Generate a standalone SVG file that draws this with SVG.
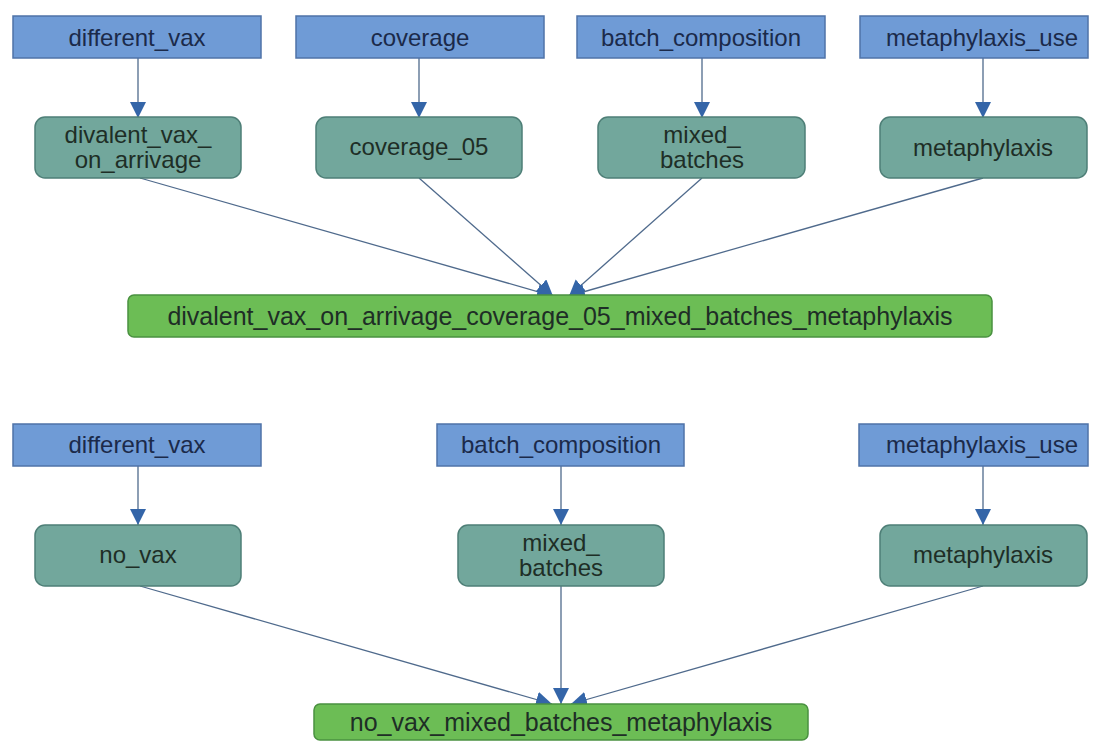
<svg xmlns="http://www.w3.org/2000/svg" width="1099" height="742" viewBox="0 0 1099 742">
<defs>
<style>
.b{fill:#6f9bd6;stroke:#4f73a8;stroke-width:1.5}
.t{fill:#72a79c;stroke:#4e7f77;stroke-width:1.5}
.g{fill:#6cbd55;stroke:#4a9140;stroke-width:1.5}
text{font-family:"Liberation Sans",Arial,sans-serif;font-size:24px;text-anchor:middle}
.big{font-size:25px}
.bt{fill:#1b2a4a}
.tt{fill:#1e2e26}
.e{fill:none;stroke:#4f6a8c;stroke-width:1.3;marker-end:url(#ah)}
</style>
<marker id="ah" markerUnits="userSpaceOnUse" markerWidth="18" markerHeight="18" refX="16" refY="8" orient="auto">
<path d="M0,0 L16,8 L0,16 Z" fill="#3465a8"/>
</marker>
</defs>
<rect width="1099" height="742" fill="#ffffff"/>
<g id="connectors">
<line class="e" x1="138" y1="58" x2="138" y2="118"/>
<line class="e" x1="419" y1="58" x2="419" y2="118"/>
<line class="e" x1="702" y1="58" x2="702" y2="118"/>
<line class="e" x1="983" y1="58" x2="983" y2="118"/>
<line class="e" x1="140" y1="178" x2="553" y2="296"/>
<line class="e" x1="419" y1="178" x2="553" y2="296"/>
<line class="e" x1="702" y1="178" x2="569" y2="296"/>
<line class="e" x1="983" y1="178" x2="569" y2="296"/>
<line class="e" x1="138" y1="466" x2="138" y2="525"/>
<line class="e" x1="561" y1="466" x2="561" y2="525"/>
<line class="e" x1="983" y1="466" x2="983" y2="525"/>
<line class="e" x1="140" y1="586" x2="552" y2="704"/>
<line class="e" x1="561" y1="586" x2="561" y2="704"/>
<line class="e" x1="983" y1="586" x2="571" y2="704"/>
</g>
<g id="n1"><rect class="b" x="13" y="16" width="248" height="42"/><text class="bt" x="137" y="46">different_vax</text></g>
<g id="n2"><rect class="b" x="296" y="16" width="248" height="42"/><text class="bt" x="420" y="46">coverage</text></g>
<g id="n3"><rect class="b" x="577" y="16" width="248" height="42"/><text class="bt" x="701" y="46">batch_composition</text></g>
<g id="n4"><rect class="b" x="860" y="16" width="228" height="42"/><text class="bt" x="982" y="46">metaphylaxis_use</text></g>
<g id="n5"><rect class="t" x="35" y="117" width="206" height="61" rx="10"/><text class="tt" x="138" y="143">divalent_vax_</text><text class="tt" x="138" y="168">on_arrivage</text></g>
<g id="n6"><rect class="t" x="316" y="117" width="206" height="61" rx="10"/><text class="tt" x="419" y="155">coverage_05</text></g>
<g id="n7"><rect class="t" x="598" y="117" width="207" height="61" rx="10"/><text class="tt" x="702" y="143">mixed_</text><text class="tt" x="702" y="168">batches</text></g>
<g id="n8"><rect class="t" x="880" y="117" width="207" height="61" rx="10"/><text class="tt" x="983" y="156">metaphylaxis</text></g>
<g id="n9"><rect class="g" x="128" y="295" width="864" height="42" rx="6"/><text class="tt big" x="560" y="325">divalent_vax_on_arrivage_coverage_05_mixed_batches_metaphylaxis</text></g>
<g id="n10"><rect class="b" x="13" y="424" width="248" height="42"/><text class="bt" x="137" y="453">different_vax</text></g>
<g id="n11"><rect class="b" x="437" y="424" width="247" height="42"/><text class="bt" x="561" y="453">batch_composition</text></g>
<g id="n12"><rect class="b" x="859" y="424" width="229" height="42"/><text class="bt" x="982" y="453">metaphylaxis_use</text></g>
<g id="n13"><rect class="t" x="35" y="525" width="206" height="61" rx="10"/><text class="tt" x="138" y="563">no_vax</text></g>
<g id="n14"><rect class="t" x="458" y="525" width="206" height="61" rx="10"/><text class="tt" x="561" y="551">mixed_</text><text class="tt" x="561" y="576">batches</text></g>
<g id="n15"><rect class="t" x="880" y="525" width="207" height="61" rx="10"/><text class="tt" x="983" y="563">metaphylaxis</text></g>
<g id="n16"><rect class="g" x="314" y="704" width="494" height="36" rx="6"/><text class="tt big" x="561" y="731">no_vax_mixed_batches_metaphylaxis</text></g>
</svg>
